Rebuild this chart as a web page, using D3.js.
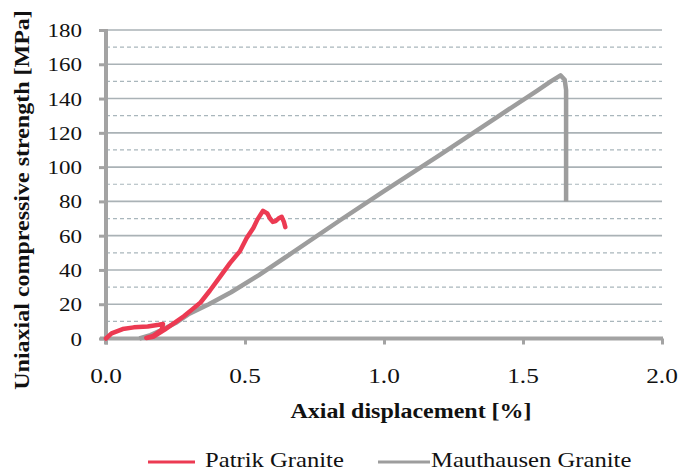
<!DOCTYPE html>
<html>
<head>
<meta charset="utf-8">
<script src="https://cdn.jsdelivr.net/npm/d3@7"></script>
<style>
  body { margin: 0; background: #fff; }
  svg { display: block; }
  text { font-family: "Liberation Serif", "Times New Roman", serif; fill: #111; }
</style>
</head>
<body>
<svg id="chart" width="679" height="473"></svg>
<script>
// data
const seriesNames = ["Patrik Granite", "Mauthausen Granite"]
const xTicks = [0, 0.5, 1.0, 1.5, 2.0]
const yMajorTicks = [0, 20, 40, 60, 80, 100, 120, 140, 160, 180]
const yMinorTicks = [10, 30, 50, 70, 90, 110, 130, 150, 170]

// Patrik Granite: [displacement %, stress MPa]
const patrik = [
  [0, 0], [0.02, 3], [0.06, 5.5], [0.1, 6.5], [0.15, 7], [0.19, 8], [0.205, 8.5],
  [0.2, 5], [0.17, 1.5], [0.145, 0.3], [0.17, 1], [0.21, 5], [0.25, 9.5],
  [0.28, 13], [0.31, 17], [0.34, 21], [0.374, 28], [0.41, 36], [0.446, 44],
  [0.482, 51], [0.506, 58.6], [0.53, 64.5], [0.545, 69.5], [0.565, 74.5],
  [0.58, 73], [0.59, 70], [0.6, 68], [0.61, 68.5], [0.62, 70], [0.632, 71],
  [0.64, 68], [0.645, 65]
]

// Mauthausen Granite
const mauthausen = [
  [0.12, 0], [0.16, 2], [0.2, 5], [0.25, 9], [0.3, 14.5], [0.37, 20], [0.45, 27],
  [0.55, 37], [0.66, 49], [0.842, 69], [1.0, 86], [1.2, 107], [1.4, 128.5],
  [1.55, 144.5], [1.6, 150], [1.635, 153.5], [1.65, 151], [1.655, 145], [1.655, 80]
]

const colors = ["#ec3a52", "#9d9d9d"]

const svg = d3.select("#chart")
const x = d3.scaleLinear().domain([0, 2]).range([106, 662])
const y = d3.scaleLinear().domain([0, 180]).range([338.5, 30])

// text is a bit wider than tall in the picture
function stretchedText(g, tx, ty, sx, rot) {
  return g.append("text")
    .attr("transform", "translate(" + tx + "," + ty + ")" + (rot ? " rotate(" + rot + ")" : "") + " scale(" + sx + ",1)")
}

// grid
const grid = svg.append("g")
grid.selectAll("line.major")
  .data(yMajorTicks.slice(1))
  .join("line")
  .attr("class", "major")
  .attr("x1", x(0)).attr("x2", x(2))
  .attr("y1", d => y(d)).attr("y2", d => y(d))
  .attr("stroke", "#aab2b6")
  .attr("stroke-width", 1.6)
grid.selectAll("line.minor")
  .data(yMinorTicks)
  .join("line")
  .attr("class", "minor")
  .attr("x1", x(0)).attr("x2", x(2))
  .attr("y1", d => y(d)).attr("y2", d => y(d))
  .attr("stroke", "#a9b6bc")
  .attr("stroke-width", 1.2)
  .attr("stroke-dasharray", "4,3")

// axes
const axisColor = "#a3a3a3"
const yAxis = svg.append("g")
  .attr("transform", "translate(" + x(0) + ",0)")
  .call(d3.axisLeft(y).tickValues(yMajorTicks).tickSize(7).tickFormat(""))
yAxis.select(".domain").remove()
yAxis.selectAll("line").attr("stroke", axisColor).attr("stroke-width", 3)
svg.append("line")
  .attr("x1", x(0)).attr("x2", x(0))
  .attr("y1", y(180) - 1).attr("y2", y(0) + 6)
  .attr("stroke", axisColor).attr("stroke-width", 4)

const xAxis = svg.append("g")
  .attr("transform", "translate(0," + y(0) + ")")
  .call(d3.axisBottom(x).tickValues(xTicks).tickSize(6).tickFormat(""))
xAxis.select(".domain").remove()
xAxis.selectAll("line").attr("stroke", axisColor).attr("stroke-width", 3)
svg.append("line")
  .attr("x1", x(0) - 6).attr("x2", x(2) + 1)
  .attr("y1", y(0)).attr("y2", y(0))
  .attr("stroke", axisColor).attr("stroke-width", 4)

// tick labels
yMajorTicks.forEach(v => {
  stretchedText(svg, 82, y(v) + 7, 1.18)
    .attr("text-anchor", "end")
    .style("font-size", "19.5px")
    .text(v)
})
xTicks.forEach(v => {
  stretchedText(svg, x(v), 383, 1.15)
    .attr("text-anchor", "middle")
    .style("font-size", "22px")
    .text(v.toFixed(1))
})

// axis titles
stretchedText(svg, 411, 418, 1.2)
  .attr("text-anchor", "middle")
  .style("font-size", "20px")
  .style("font-weight", "bold")
  .text("Axial displacement [%]")

stretchedText(svg, 29, 200, 1.2, -90)
  .attr("text-anchor", "middle")
  .style("font-size", "20px")
  .style("font-weight", "bold")
  .text("Uniaxial compressive strength  [MPa]")

// series
const line = d3.line().x(d => x(d[0])).y(d => y(d[1])).curve(d3.curveLinear)
svg.append("path")
  .datum(mauthausen)
  .attr("d", line)
  .attr("fill", "none")
  .attr("stroke", colors[1])
  .attr("stroke-width", 4.5)
  .attr("stroke-linejoin", "round")
svg.append("path")
  .datum(patrik)
  .attr("d", line)
  .attr("fill", "none")
  .attr("stroke", colors[0])
  .attr("stroke-width", 4.5)
  .attr("stroke-linejoin", "round")
  .attr("stroke-linecap", "round")

// legend
const legendPos = [[148, 195, 205], [378, 430, 431]]
seriesNames.forEach((name, i) => {
  const p = legendPos[i]
  svg.append("line")
    .attr("x1", p[0]).attr("x2", p[1])
    .attr("y1", 462).attr("y2", 462)
    .attr("stroke", colors[i])
    .attr("stroke-width", 3)
  stretchedText(svg, p[2], 467, 1.12)
    .style("font-size", "22px")
    .text(name)
})
</script>
</body>
</html>
